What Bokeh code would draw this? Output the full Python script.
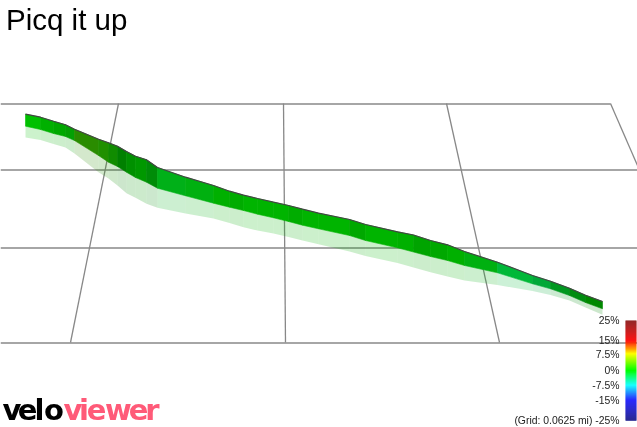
from bokeh.plotting import figure
from bokeh.models import Range1d
from bokeh.core.properties import value
from bokeh.embed import file_html
from bokeh.resources import INLINE
import numpy as np

title = "Picq it up"
dist = [25,40,53,65,74,98,108,117,126,135,146,157,185,213,229,243,257,273,288,302,318,349,365,397,413,430,447,464,497,532,550,569,585,602]
top = [113.7,116.7,120.7,124.3,128.7,138.7,142.3,145.7,151,155.7,159.3,167,176.7,185,190.7,194.7,198,201.7,205,208.7,212.7,219,224,231.3,234.5,240,244.3,251,261.7,275,280.7,287.7,294.7,301]
bottom = [125.7,129,133,136,140,155,161.7,166,171.7,177,181.7,187.7,195.3,202.7,206.7,210,213.7,217.3,221,224.7,228.3,235,240,247.3,251.5,256,260,265,272.3,283.3,288.3,295,302,308.3]
shadow_bottom = [137,139.5,143.5,147,153,171.7,178,185,192.7,197.3,203.3,207.3,213,218,222.5,226.7,230,233,236.5,240,243.7,251,255.5,262.5,267,271.7,276,280,284.5,290.5,294.5,300,307,314.3]
seg_colors = ["#00c000","#00b000","#00a800","#04a004","#2a8c00","#209000","#108c00","#008000","#009000","#009800","#008c08",
              "#00b018","#00b010","#00b000","#00ac00","#00b400","#00b400","#00b400","#00ac00","#00b400","#00b400","#00a800",
              "#00b400","#00b000","#00a400","#00a800","#00b000","#00b010","#00b838","#00a838","#009820","#008c10","#008800"]

h_grid_y = [103.5,169.5,247.5,342.5]
h_grid_x1 = [610,637,637,637]
v_top_x = [118,283,446,610]
v_bot_x = [70,285,499,637]
v_top_y = [103,103,103,103]
v_bot_y = [342,342,342,165]

grade_labels = ["25%","15%","7.5%","0%","-7.5%","-15%","(Grid: 0.0625 mi) -25%"]
grade_label_y = [320,340,354,370,385,400,420]
bar_stops_pos = [0,0.2,0.33,0.5,0.65,0.8,1]
bar_stops_rgb = [(128,0,0),(255,0,0),(255,255,0),(0,255,0),(0,255,255),(0,0,255),(0,0,128)]

logo_letters = list("veloviewer")
logo_centres = [11.5,27,39,53.5,72.5,83.5,96,118,138,152]
logo_colors = ["#000000"]*4 + ["#ff5a78"]*6

p = figure(width=637, height=427, output_backend="svg", toolbar_location=None,
           x_range=Range1d(0,637), y_range=Range1d(427,0), min_border=0,
           x_axis_location=None, y_axis_location=None, outline_line_color=None)
p.grid.visible = False
p.styles = {"position":"fixed","left":"0px","top":"0px"}

GRID = "#888888"
p.segment(x0=[0]*4, x1=h_grid_x1, y0=h_grid_y, y1=h_grid_y, line_color=GRID, line_width=1.5)
p.segment(x0=v_top_x, x1=v_bot_x, y0=v_top_y, y1=v_bot_y, line_color=GRID, line_width=1.3)

n = len(dist)-1
xs = [[dist[i],dist[i+1],dist[i+1],dist[i]] for i in range(n)]
p.patches(xs, [[bottom[i],bottom[i+1],shadow_bottom[i+1],shadow_bottom[i]] for i in range(n)],
          fill_color=seg_colors, fill_alpha=0.2, line_color=None)
p.patches(xs, [[top[i],top[i+1],bottom[i+1],bottom[i]] for i in range(n)],
          fill_color=seg_colors, fill_alpha=1.0, line_color=seg_colors, line_alpha=1.0, line_width=0.6)
p.line(dist, top, line_color="#444444", line_width=1.2)

# colour bar
rows = 99
pos = np.linspace(0,1,rows)
cols = ["#%02x%02x%02x" % tuple(int(np.interp(t,bar_stops_pos,[c[k] for c in bar_stops_rgb])) for k in range(3)) for t in pos]
ys = 320+pos*99
p.quad(left=625,right=636,top=ys,bottom=ys+1.2,fill_color=cols,fill_alpha=1.0,line_color=None)

p.text(x=[619]*7, y=grade_label_y, text=grade_labels, text_align="right", text_baseline="middle",
       text_font=value("Liberation Sans"), text_font_size="10.4px", text_color="#222222")
p.text(x=[5.5], y=[19], text=[title], text_font=value("Liberation Sans"), text_font_size="29.5px", text_color="#000000",
       text_baseline="middle")

p.text(x=logo_centres, y=[409]*10, text=logo_letters, text_color=logo_colors,
       text_align="center", text_baseline="middle",
       text_font=value("DejaVu Sans"), text_font_style="bold", text_font_size="29px")

open("out.html","w").write(file_html(p, INLINE))
